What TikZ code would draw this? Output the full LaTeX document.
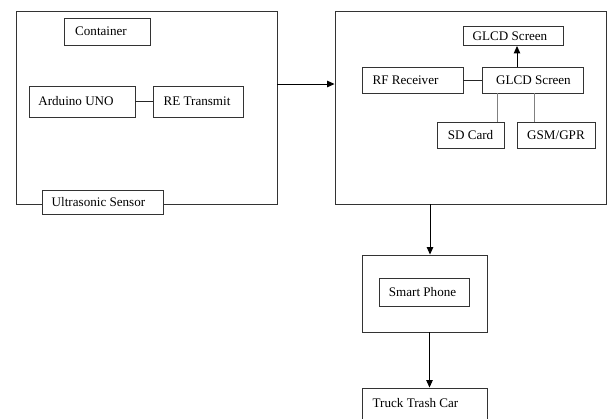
\documentclass[tikz,border=0pt]{standalone}
\usepackage{fontspec}
\setmainfont{Liberation Serif}
\usetikzlibrary{arrows.meta}
\begin{document}
\begin{tikzpicture}[x=1pt,y=-1pt,
 box/.style={draw=black!80, line width=0.9pt, fill=white, inner sep=0pt},
 conn/.style={draw=black!85, line width=0.9pt},
 gconn/.style={draw=black!50, line width=0.9pt},
 arr/.style={draw=black, line width=1pt, -{Triangle[length=7.5pt,width=6.5pt]}},
 font=\fontsize{13.1}{15}\selectfont]
\useasboundingbox (0,0) rectangle (607,418);
\clip (0,0) rectangle (607,418);
% left container
\node[box, minimum width=261pt, minimum height=193pt] (L) at (146.5,107.5) {};
\node[box, minimum width=86pt, minimum height=27pt, label={[xshift=-6pt]center:Container}] (cont) at (107,31.5) {};
\node[box, minimum width=106pt, minimum height=31pt, label={[xshift=-6pt]center:Arduino UNO}] (ard) at (82,101.5) {};
\node[box, minimum width=90pt, minimum height=31pt, label={[xshift=-1pt]center:RE Transmit}] (re) at (198,101.5) {};
\node[box, minimum width=121pt, minimum height=24pt, label={[xshift=-4pt]center:Ultrasonic Sensor}] (us) at (102.5,202) {};
% right container
\node[box, minimum width=271pt, minimum height=193pt] (R) at (470.5,107.5) {};
\node[box, minimum width=100pt, minimum height=19pt, label={[xshift=-3pt]center:GLCD Screen}] (g1) at (513,36) {};
\node[box, minimum width=101pt, minimum height=26pt, label={[xshift=1pt]center:GLCD Screen}] (g2) at (532.5,80) {};
\node[box, minimum width=101pt, minimum height=26pt, label={[xshift=-7pt]center:RF Receiver}] (rf) at (412.5,80) {};
\node[box, minimum width=67pt, minimum height=26pt, label={center:SD Card}] (sd) at (470.5,135) {};
\node[box, minimum width=78pt, minimum height=26pt, label={center:GSM/GPR}] (gsm) at (556,135) {};
% phone
\node[box, minimum width=125pt, minimum height=77pt] (ph) at (424.5,293.5) {};
\node[box, minimum width=90pt, minimum height=28pt, label={[xshift=-1.5pt]center:Smart Phone}] (sp) at (424,292) {};
\node[box, minimum width=125pt, minimum height=40pt, label={[xshift=-9pt,yshift=5pt]center:Truck Trash Car}] (tr) at (424.5,408) {};
% connectors
\draw[conn] (ard.east) -- (re.west);
\draw[arr] ([yshift=23.5pt]L.east) -- ([yshift=23.5pt]R.west);
\draw[conn] (rf.east) -- (g2.west);
\draw[arr] ([xshift=-15.5pt]g2.north) -- ([xshift=-15.5pt]g2.north |- g1.south);
\draw[gconn] ([xshift=-35.5pt]g2.south) -- ([xshift=-35.5pt]g2.south |- sd.north);
\draw[gconn] ([xshift=1.5pt]g2.south) -- ([xshift=1.5pt]g2.south |- gsm.north);
\draw[arr] ([xshift=-40.5pt]R.south) -- ([xshift=-40.5pt]R.south |- ph.north);
\draw[arr] ([xshift=5pt]ph.south) -- ([xshift=5pt]ph.south |- tr.north);
\end{tikzpicture}
\end{document}
